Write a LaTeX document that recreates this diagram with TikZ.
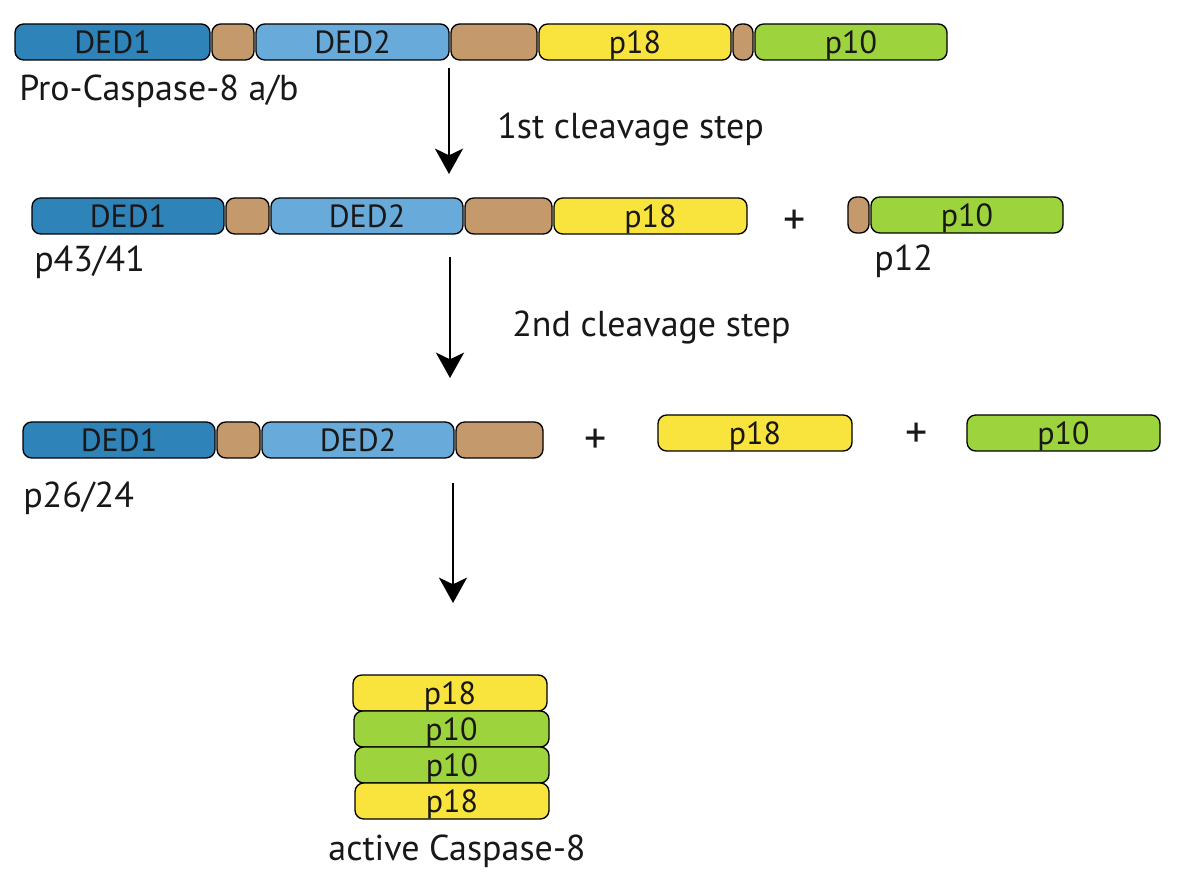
\documentclass[tikz,border=0pt]{standalone}
\usepackage{fontspec}
\setmainfont{PT Sans}
\usetikzlibrary{arrows.meta}
\definecolor{dedone}{HTML}{2E83B9}
\definecolor{dedtwo}{HTML}{68ABDA}
\definecolor{linker}{HTML}{C49A6C}
\definecolor{pyellow}{HTML}{F9E43E}
\definecolor{pgreen}{HTML}{9DD33C}
\definecolor{txt}{HTML}{1A1718}
\newcommand\seg[6]{\node[seg, fill=#5, minimum width={(#3-#2)*0.75pt}] (#1) at ({(#2+#3)/2},#4) {#6};}
\begin{document}
\begin{tikzpicture}[x=0.75pt,y=-0.75pt,
  seg/.style={draw=black, line width=1pt, rounded corners=6.5pt, minimum height=27pt,
    inner sep=0pt, text height=16.6pt, text depth=0pt, font=\fontsize{24}{26}\selectfont, text=txt},
  lbl/.style={inner sep=0pt, anchor=base west, font=\fontsize{27}{30}\selectfont, text=txt},
  plussign/.style={inner sep=0pt, font=\fontsize{33}{36}\selectfont, text=txt},
  arr/.style={line width=2pt, draw=black, -{Stealth[length=19pt,width=21pt,inset=5pt]}}]
\useasboundingbox (0,0) rectangle (1182,887);
% Row 1
\seg{rA1}{15}{210}{42}{dedone}{DED1}
\seg{rA2}{212}{254}{42}{linker}{}
\seg{rA3}{256}{449}{42}{dedtwo}{DED2}
\seg{rA4}{451}{537}{42}{linker}{}
\seg{rA5}{539}{731}{42}{pyellow}{p18}
\seg{rA6}{733}{753}{42}{linker}{}
\seg{rA7}{755}{947}{42}{pgreen}{p10}
\node[lbl] (lA) at (19,101) {Pro-Caspase-8 a/b};
\coordinate (a1s) at (449,68);
\coordinate (a1e) at (449,174);
\draw[arr] (a1s) -- (a1e);
\node[lbl] (s1) at (497,139) {1st cleavage step};
% Row 2
\seg{rB1}{32}{224}{216}{dedone}{DED1}
\seg{rB2}{226}{269}{216}{linker}{}
\seg{rB3}{271}{463}{216}{dedtwo}{DED2}
\seg{rB4}{465}{552}{216}{linker}{}
\seg{rB5}{554}{747}{216}{pyellow}{p18}
\node[plussign] (plB) at (795,222) {+};
\seg{rC1}{848}{869}{215}{linker}{}
\seg{rC2}{871}{1063}{215}{pgreen}{p10}
\node[lbl] (lB) at (34,272) {p43/41};
\node[lbl] (lC) at (874,271) {p12};
\coordinate (a2s) at (450,257);
\coordinate (a2e) at (450,378);
\draw[arr] (a2s) -- (a2e);
\node[lbl] (s2) at (512,337) {2nd cleavage step};
% Row 3
\seg{rD1}{23}{215}{440}{dedone}{DED1}
\seg{rD2}{217}{260}{440}{linker}{}
\seg{rD3}{262}{454}{440}{dedtwo}{DED2}
\seg{rD4}{456}{543}{440}{linker}{}
\node[plussign] (plD) at (596,441) {+};
\seg{rE1}{658}{852}{433}{pyellow}{p18}
\node[plussign] (plE) at (917,435) {+};
\seg{rF1}{967}{1160}{433}{pgreen}{p10}
\node[lbl] (lD) at (23,508) {p26/24};
\coordinate (a3s) at (453,483);
\coordinate (a3e) at (453,603);
\draw[arr] (a3s) -- (a3e);
% Active stack
\seg{sG1}{353}{547}{693}{pyellow}{p18}
\seg{sG2}{354}{549}{729}{pgreen}{p10}
\seg{sG3}{355}{549}{765}{pgreen}{p10}
\seg{sG4}{355}{549}{801}{pyellow}{p18}
\node[lbl, anchor=base] (lG) at (457,860) {active Caspase-8};
\end{tikzpicture}
\end{document}
